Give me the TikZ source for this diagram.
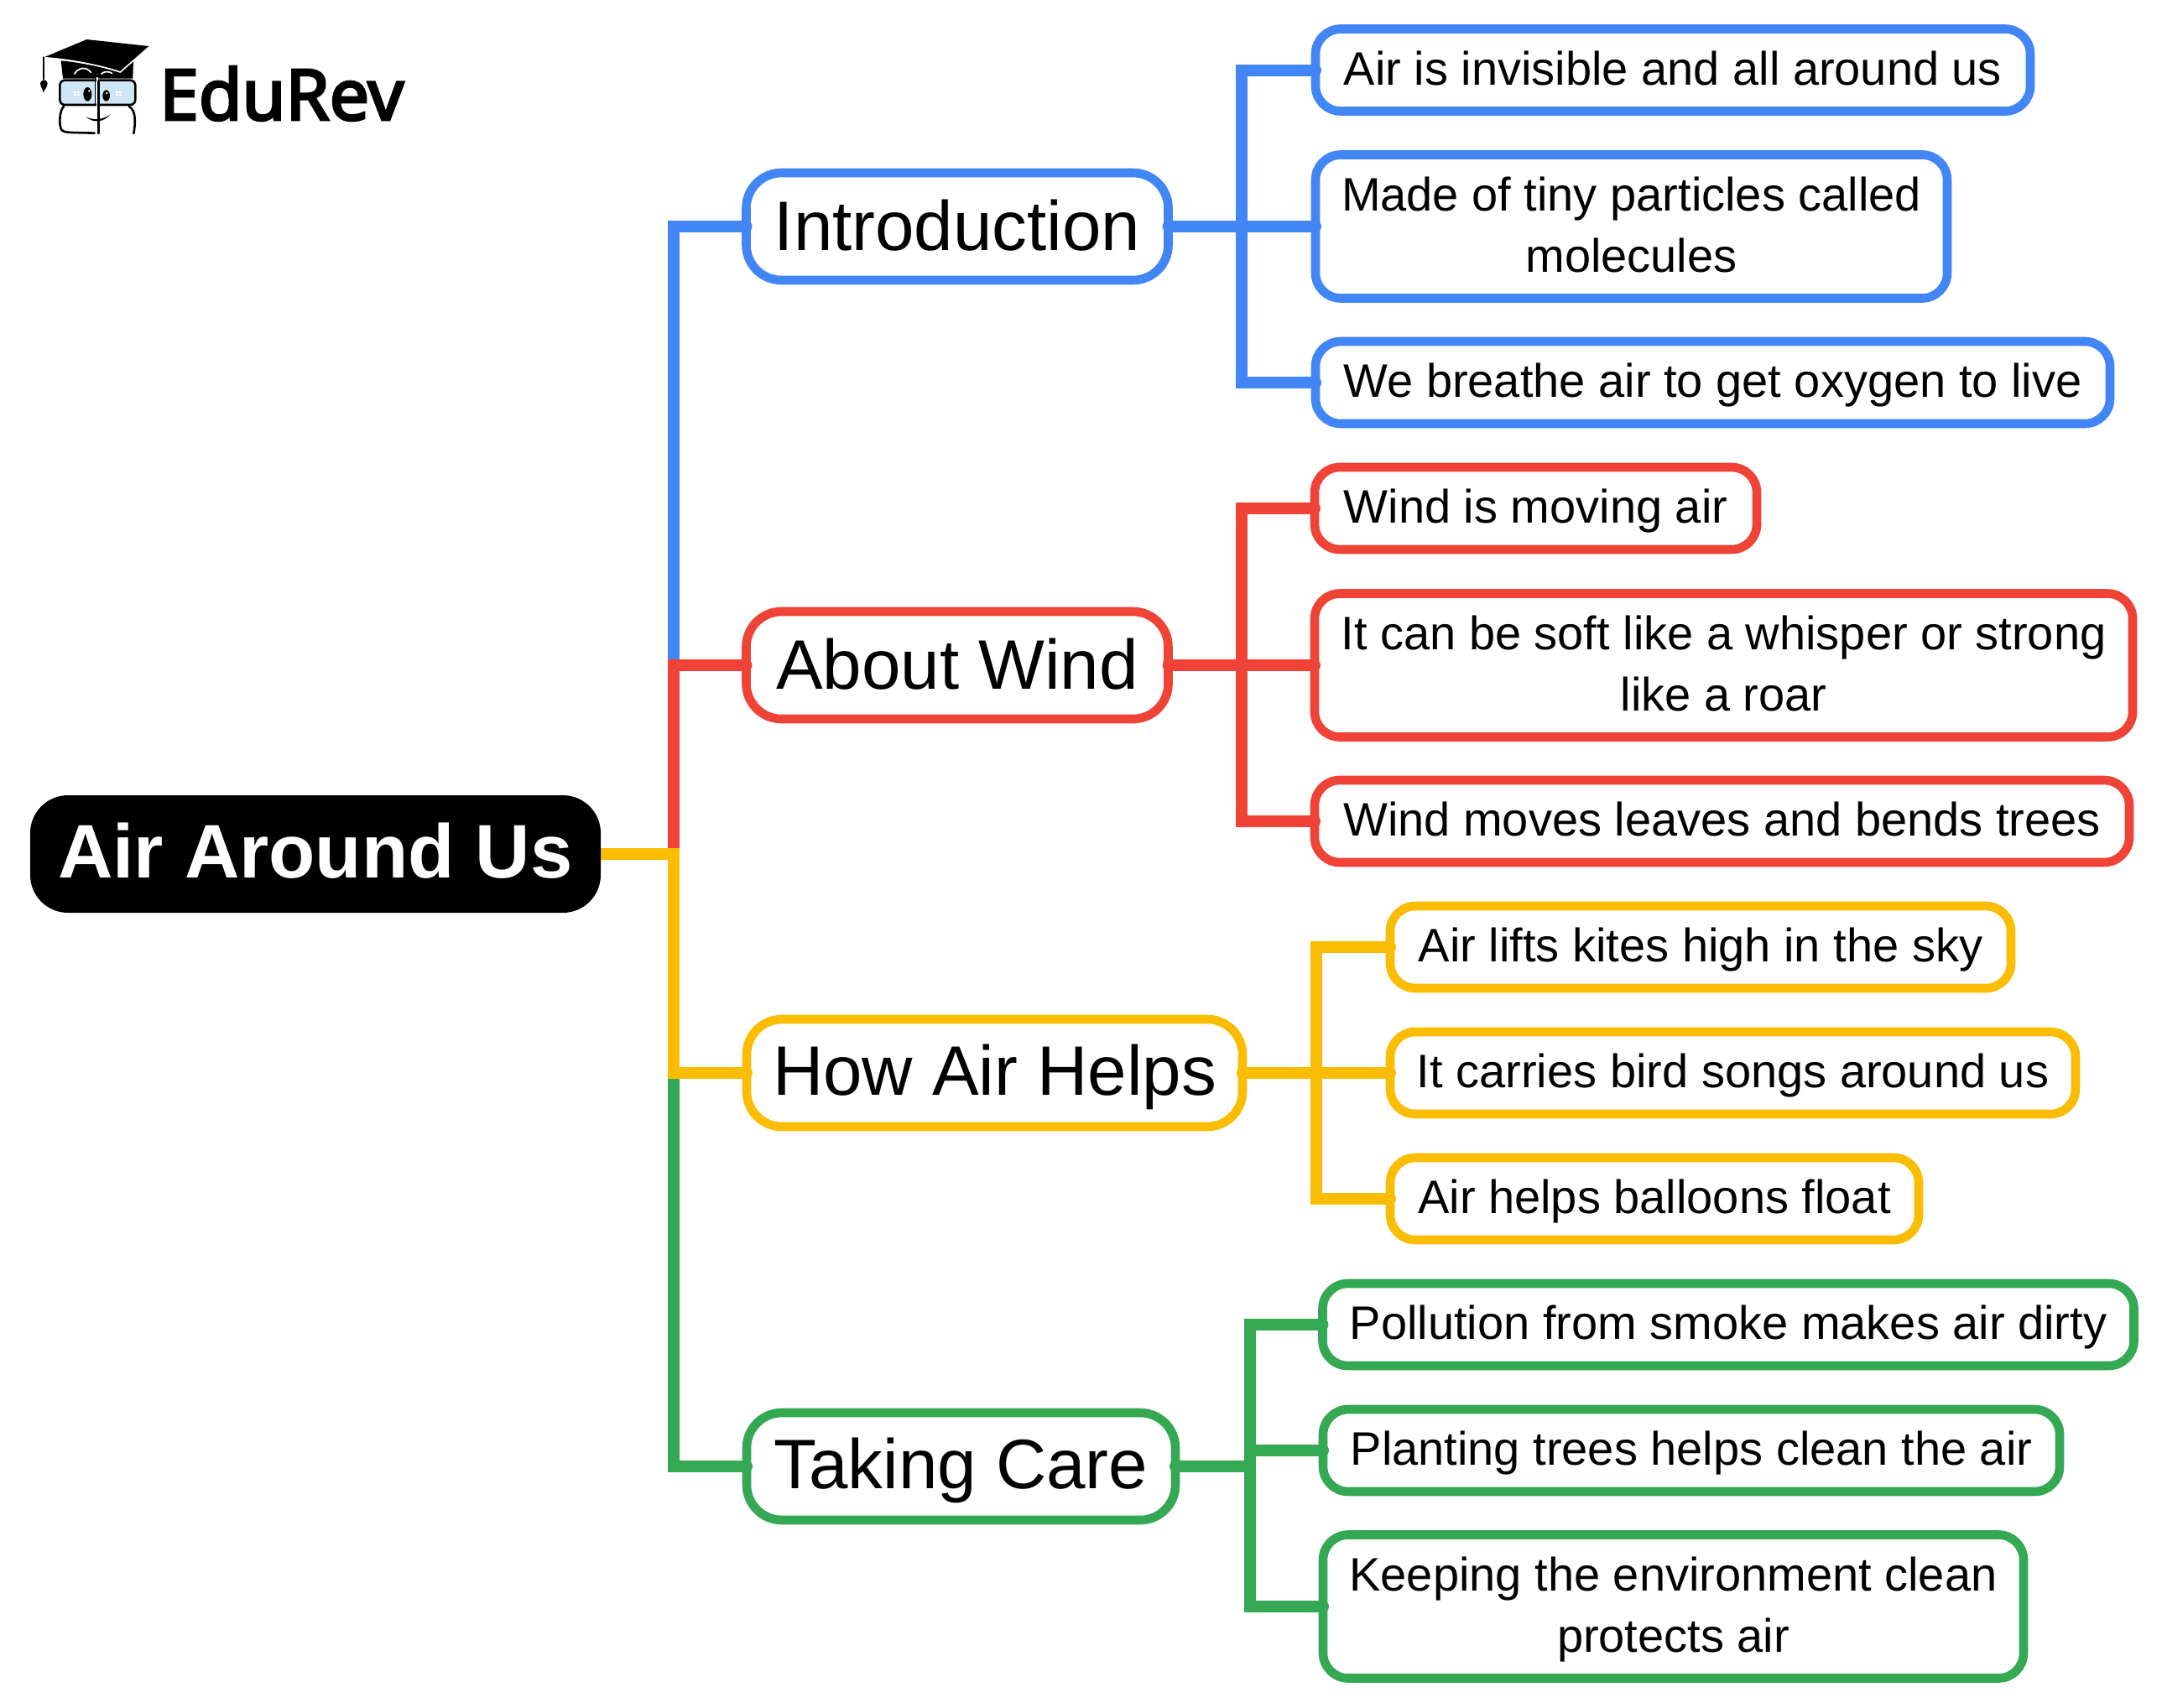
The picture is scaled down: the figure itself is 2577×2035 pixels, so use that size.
\documentclass[tikz,border=0pt]{standalone}
\usepackage{fontspec}
\setmainfont{Liberation Sans}
\newfontfamily\logofont[FakeBold=3.5]{Noto Sans}
\definecolor{cblue}{HTML}{4285F4}
\definecolor{cred}{HTML}{EE4336}
\definecolor{cyellow}{HTML}{FBBC04}
\definecolor{cgreen}{HTML}{34A853}
\definecolor{glass}{HTML}{CFE6F5}
\newcommand{\leafstrut}{\rule{0pt}{54.25pt}\rule[-18.75pt]{0pt}{18.75pt}}
\newcommand{\branchstrut}{\rule{0pt}{70pt}\rule[-14pt]{0pt}{14pt}}
\newcommand{\rootstrut}{\rule{0pt}{75pt}\rule[-18pt]{0pt}{18pt}}
\pgfdeclarelayer{front}
\pgfsetlayers{main,front}
\tikzset{
  x=1pt,y=-1pt,
  boxbase/.style={rectangle,inner sep=0pt,outer sep=0pt,line width=10.6pt,fill=white,text=black,align=center},
  leaf/.style={boxbase,rounded corners=30pt,font=\fontsize{56}{73}\selectfont},
  branch/.style={boxbase,rounded corners=42pt,font=\fontsize{83.5}{85}\selectfont},
  rootbox/.style={rectangle,inner sep=0pt,outer sep=0pt,fill=black,text=white,rounded corners=45pt,font=\fontsize{90.5}{93}\selectfont\bfseries},
  conn/.style={line width=14pt,line cap=round,line join=miter},
  logoink/.style={black,line cap=round,line join=round},
}
\begin{document}
\begin{tikzpicture}
\useasboundingbox[fill=white] (0,0) rectangle (2577,2035);

% logo
\begin{scope}[shift={(40,35)},x=0.3333pt,y=-0.3333pt]
  \fill[black] (98,112) -- (105,176) -- (355,176) -- (357,112) -- (310,155) .. controls (240,132) and (160,118) .. (98,112) -- cycle;
  \fill[black] (37,100) -- (190,36) -- (412,60) -- (310,150) .. controls (240,128) and (130,106) .. (37,100) -- cycle;
  \draw[white,line width=1.5pt] (37,101) .. controls (130,107) and (240,129) .. (310,153) -- (357,112);
  \draw[white,line width=1.7pt] (146,160) .. controls (160,135) and (190,132) .. (206,155);
  \draw[white,line width=1.7pt] (242,160) .. controls (250,150) and (270,148) .. (282,158);
  \draw[logoink,line width=1.8pt] (37,100) -- (37,178);
  \fill[black] (24,192) .. controls (28,178) and (46,176) .. (50,192) .. controls (50,205) and (40,215) .. (35,226) .. controls (32,212) and (24,205) .. (24,192) -- cycle;
  \draw[logoink,fill=glass,line width=2.6pt,rounded corners=6pt] (94,182) rectangle (364,270);
  \draw[white,line width=2pt] (227,172) -- (227,278);
  \draw[logoink,line width=1.6pt] (221,172) -- (221,270);
  \draw[logoink,line width=2.4pt] (233,185) -- (233,372);
  \fill[black] (193,232) ellipse [x radius=15,y radius=25];
  \fill[black] (260,237) ellipse [x radius=13,y radius=20];
  \fill[white] (199,220) circle [radius=4];
  \fill[white] (262,228) circle [radius=4];
  \fill[white] (145,221) rectangle (164,237);
  \fill[white] (295,221) rectangle (315,237);
  \draw[glass,line width=0.7pt] (154.5,221) -- (154.5,237) (145,229) -- (164,229) (305,221) -- (305,237) (295,229) -- (315,229);
  \draw[logoink,line width=2.6pt] (108,276) .. controls (92,290) and (92,340) .. (97,352) .. controls (102,372) and (120,368) .. (218,371);
  \draw[logoink,line width=2.6pt] (342,276) .. controls (368,290) and (364,340) .. (358,372);
  \fill[black] (187,312) .. controls (215,338) and (250,332) .. (276,304) .. controls (250,322) and (215,328) .. (187,312) -- cycle;
\end{scope}
\node[anchor=base west,inner sep=0pt,font=\logofont\fontsize{84}{90}\selectfont,text=black] (brand) at (190,143) {EduRev};

% root
\begin{pgfonlayer}{front}
\node[rootbox,minimum width=680pt,minimum height=140pt] (root) at (376,1018) {\rootstrut Air Around Us};
\end{pgfonlayer}

% branches
\node[branch,draw=cblue,minimum width=503pt,minimum height=128pt] (intro) at (1141,270) {\branchstrut Introduction};
\node[branch,draw=cred,minimum width=503pt,minimum height=128pt] (wind) at (1141,793) {\branchstrut About Wind};
\node[branch,draw=cyellow,minimum width=591pt,minimum height=128pt] (helps) at (1185.5,1279) {\branchstrut How Air Helps};
\node[branch,draw=cgreen,minimum width=511pt,minimum height=128pt] (care) at (1145.5,1748) {\branchstrut Taking Care};

% leaves, blue
\node[leaf,draw=cblue,minimum width=852pt,minimum height=98pt] (b1) at (1994,83.5) {\leafstrut Air is invisible and all around us};
\node[leaf,draw=cblue,minimum width=753pt,minimum height=171pt] (b2) at (1944.5,270) {\leafstrut Made of tiny particles called\\\leafstrut molecules};
\node[leaf,draw=cblue,minimum width=947pt,minimum height=98pt] (b3) at (2041.5,456) {\leafstrut We breathe air to get oxygen to live};
% leaves, red
\node[leaf,draw=cred,minimum width=527pt,minimum height=98pt] (r1) at (1830.5,606) {\leafstrut Wind is moving air};
\node[leaf,draw=cred,minimum width=975pt,minimum height=171pt] (r2) at (2054.5,793) {\leafstrut It can be soft like a whisper or strong\\\leafstrut like a roar};
\node[leaf,draw=cred,minimum width=971pt,minimum height=98pt] (r3) at (2052.5,979) {\leafstrut Wind moves leaves and bends trees};
% leaves, yellow
\node[leaf,draw=cyellow,minimum width=740pt,minimum height=98pt] (y1) at (2027,1129) {\leafstrut Air lifts kites high in the sky};
\node[leaf,draw=cyellow,minimum width=817pt,minimum height=98pt] (y2) at (2065.5,1279) {\leafstrut It carries bird songs around us};
\node[leaf,draw=cyellow,minimum width=630pt,minimum height=98pt] (y3) at (1972,1429) {\leafstrut Air helps balloons float};
% leaves, green
\node[leaf,draw=cgreen,minimum width=967pt,minimum height=98pt] (g1) at (2060,1579) {\leafstrut Pollution from smoke makes air dirty};
\node[leaf,draw=cgreen,minimum width=878pt,minimum height=98pt] (g2) at (2016,1729) {\leafstrut Planting trees helps clean the air};
\node[leaf,draw=cgreen,minimum width=835pt,minimum height=171pt] (g3) at (1994.5,1915) {\leafstrut Keeping the environment clean\\\leafstrut protects air};

% junction points
\coordinate (t0) at (803,1018);
\coordinate (tb) at (1480,270);
\coordinate (tr) at (1480,793);
\coordinate (ty) at (1569,1279);
\coordinate (tg) at (1490,1748);

% root connectors
\draw[conn,cblue] (root.east) -- (t0) |- (intro.west);
\draw[conn,cred] (root.east) -- (t0) |- (wind.west);
\draw[conn,cgreen] (root.east) -- (t0) |- (care.west);
\draw[conn,cyellow] (root.east) -- (t0) |- (helps.west);

% branch connectors
\draw[conn,cblue] (intro.east) -- (b2.west);
\draw[conn,cblue] (b1.west) -| (tb) |- (b3.west);
\draw[conn,cred] (wind.east) -- (r2.west);
\draw[conn,cred] (r1.west) -| (tr) |- (r3.west);
\draw[conn,cyellow] (helps.east) -- (y2.west);
\draw[conn,cyellow] (y1.west) -| (ty) |- (y3.west);
\draw[conn,cgreen] (care.east) -- (tg);
\draw[conn,cgreen] (tg) |- (g2.west);
\draw[conn,cgreen] (g1.west) -| (tg) |- (g3.west);
\end{tikzpicture}
\end{document}
